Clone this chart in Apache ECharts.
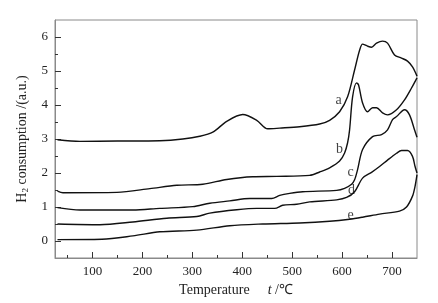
<!DOCTYPE html>
<html>
<head>
<meta charset="utf-8">
<script src="https://cdn.jsdelivr.net/npm/echarts@6/dist/echarts.min.js"></script>
<style>
html,body{margin:0;padding:0;background:#fff;}
#chart{width:438px;height:303px;}
</style>
</head>
<body>
<div id="chart"></div>
<script>
// H2-TPR curves
var tempA = [30, 75, 150, 235, 281, 315, 341, 369, 401, 429, 451, 475, 515, 555, 575, 595, 611, 625, 635, 641, 651, 659, 669, 681, 691, 705, 719, 731, 741, 750];
var h2A   = [2.98, 2.93, 2.94, 2.95, 3.00, 3.08, 3.20, 3.52, 3.72, 3.55, 3.30, 3.32, 3.36, 3.44, 3.55, 3.80, 4.24, 5.03, 5.61, 5.79, 5.73, 5.70, 5.82, 5.88, 5.82, 5.47, 5.38, 5.29, 5.12, 4.85];

var tempB = [30, 41, 149, 215, 269, 321, 369, 421, 469, 535, 555, 575, 595, 605, 611, 615, 621, 629, 633, 641, 651, 661, 669, 681, 691, 709, 725, 739, 750];
var h2B   = [1.47, 1.42, 1.43, 1.54, 1.64, 1.67, 1.81, 1.89, 1.90, 1.93, 2.03, 2.15, 2.35, 2.59, 2.89, 3.27, 4.24, 4.65, 4.59, 4.06, 3.80, 3.92, 3.92, 3.77, 3.71, 3.86, 4.15, 4.50, 4.80];

var tempC = [30, 75, 181, 235, 301, 335, 375, 415, 459, 475, 495, 521, 589, 605, 619, 625, 631, 641, 661, 679, 691, 701, 709, 725, 735, 745, 750];
var h2C   = [0.98, 0.91, 0.91, 0.96, 1.01, 1.11, 1.18, 1.25, 1.25, 1.34, 1.40, 1.45, 1.49, 1.55, 1.67, 1.80, 2.10, 2.69, 3.07, 3.13, 3.27, 3.57, 3.66, 3.86, 3.71, 3.27, 3.05];

var tempD = [30, 115, 181, 249, 309, 335, 389, 429, 465, 481, 509, 535, 589, 609, 625, 641, 659, 675, 691, 709, 719, 731, 741, 746, 750];
var h2D   = [0.50, 0.48, 0.56, 0.67, 0.72, 0.82, 0.92, 0.96, 0.96, 1.05, 1.08, 1.15, 1.21, 1.28, 1.45, 1.85, 2.02, 2.19, 2.38, 2.58, 2.66, 2.66, 2.49, 2.20, 2.00];

var tempE = [30, 119, 181, 235, 309, 375, 441, 515, 575, 615, 641, 675, 715, 729, 741, 746, 750];
var h2E   = [0.04, 0.05, 0.15, 0.27, 0.32, 0.45, 0.50, 0.53, 0.58, 0.64, 0.70, 0.79, 0.88, 1.00, 1.32, 1.60, 1.95];

var curveNames = ['a', 'b', 'c', 'd', 'e'];
var labelT = [593, 595, 617, 619, 617];
var labelH = [4.15, 2.69, 2.02, 1.49, 0.76];

var xMajor = [100, 200, 300, 400, 500, 600, 700];
var xMinor = [50, 150, 250, 350, 450, 550, 650];
var yMajor = [0, 1, 2, 3, 4, 5, 6];
var yMinor = [0.5, 1.5, 2.5, 3.5, 4.5, 5.5];

var serif = "'Liberation Serif', 'Times New Roman', serif";
var frame = '#8a8a8a';

function pairs(t, v) {
    return t.map(function (x, i) { return [x, v[i]]; });
}

var myChart = echarts.init(document.getElementById('chart'));

var curves = [[tempA, h2A], [tempB, h2B], [tempC, h2C], [tempD, h2D], [tempE, h2E]];
var series = curves.map(function (c, i) {
    return {
        name: curveNames[i],
        type: 'line',
        data: pairs(c[0], c[1]),
        showSymbol: false,
        smooth: 0.3,
        lineStyle: { color: '#111', width: 1.4 },
        z: 3
    };
});
series.push({
    type: 'scatter',
    symbolSize: 0,
    data: labelT.map(function (x, i) { return [x, labelH[i], curveNames[i]]; }),
    label: {
        show: true,
        position: 'inside',
        formatter: function (p) { return p.value[2]; },
        color: '#111',
        fontFamily: serif,
        fontSize: 14
    },
    z: 4
});

option = {
    animation: false,
    grid: {
        left: 55, right: 21, top: 20, bottom: 45,
        show: true, borderColor: frame, borderWidth: 1
    },
    xAxis: [{
        type: 'value', min: 25, max: 750, position: 'bottom',
        axisLine: { show: true, onZero: false, lineStyle: { color: frame } },
        axisTick: { show: true, inside: true, length: 3, customValues: xMinor, lineStyle: { color: '#333' } },
        axisLabel: { show: false },
        splitLine: { show: false }
    }, {
        type: 'value', min: 25, max: 750, position: 'bottom',
        axisLine: { show: false, onZero: false },
        axisTick: { show: true, inside: true, length: 6, customValues: xMajor, lineStyle: { color: '#333' } },
        axisLabel: { customValues: xMajor, margin: 7, color: '#222', fontFamily: serif, fontSize: 13 },
        splitLine: { show: false },
        name: '{n|Temperature}{i|t}{n| /℃}',
        nameLocation: 'middle',
        nameGap: 21,
        nameTextStyle: {
            rich: {
                n: { fontFamily: serif, fontSize: 14, color: '#222' },
                i: { fontFamily: serif, fontSize: 14, fontStyle: 'italic', color: '#222', padding: [0, 0, 0, 18] }
            }
        }
    }],
    yAxis: [{
        type: 'value', min: -0.5, max: 6.5, position: 'left',
        axisLine: { show: true, onZero: false, lineStyle: { color: frame } },
        axisTick: { show: true, inside: true, length: 3, customValues: yMinor, lineStyle: { color: '#333' } },
        axisLabel: { show: false },
        splitLine: { show: false }
    }, {
        type: 'value', min: -0.5, max: 6.5, position: 'left',
        axisLine: { show: false, onZero: false },
        axisTick: { show: true, inside: true, length: 6, customValues: yMajor, lineStyle: { color: '#333' } },
        axisLabel: { customValues: yMajor, margin: 7, color: '#222', fontFamily: serif, fontSize: 13 },
        splitLine: { show: false },
        name: '{n|H}{s|2}{n| consumption /(a.u.)}',
        nameLocation: 'middle',
        nameGap: 20,
        nameTextStyle: {
            rich: {
                n: { fontFamily: serif, fontSize: 14, color: '#222' },
                s: { fontFamily: serif, fontSize: 9, color: '#222', verticalAlign: 'bottom', padding: [8, 0, 0, 0] }
            }
        }
    }],
    series: series
};

myChart.setOption(option);
window.addEventListener("resize", function () {
    myChart.resize();
});
</script>
</body>
</html>
